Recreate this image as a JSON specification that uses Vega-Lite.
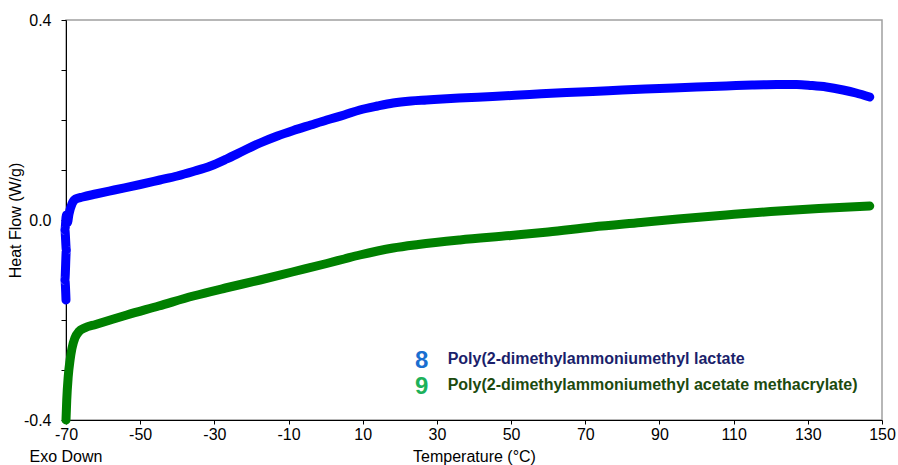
{
  "$schema": "https://vega.github.io/schema/vega-lite/v6.json",
  "width": 816,
  "height": 400,
  "autosize": {"type": "none"},
  "padding": {"left": 66, "top": 20, "right": 16, "bottom": 45},
  "background": "white",
  "config": {
    "font": "Liberation Sans",
    "view": {"stroke": "#a0a0a0", "strokeWidth": 1.5},
    "axis": {"grid": false, "domainColor": "#000000", "tickColor": "#000000", "labelColor": "#000000", "titleColor": "#000000", "labelFontSize": 16, "titleFontSize": 16, "titleFontWeight": "normal", "domainWidth": 1, "tickWidth": 1}
  },
  "datasets": {
    "curves": [
      {"i": 1, "series": "8", "T": -70.0, "v": -0.160},
      {"i": 2, "series": "8", "T": -70.3, "v": -0.120},
      {"i": 3, "series": "8", "T": -69.9, "v": -0.060},
      {"i": 4, "series": "8", "T": -70.3, "v": -0.020},
      {"i": 5, "series": "8", "T": -69.9, "v": 0.010},
      {"i": 6, "series": "8", "T": -69.6, "v": -0.005},
      {"i": 7, "series": "8", "T": -69.2, "v": 0.012},
      {"i": 8, "series": "8", "T": -68.4, "v": 0.032},
      {"i": 9, "series": "8", "T": -67.4, "v": 0.042},
      {"i": 10, "series": "8", "T": -65.5, "v": 0.046},
      {"i": 11, "series": "8", "T": -62.0, "v": 0.052},
      {"i": 12, "series": "8", "T": -57.0, "v": 0.060},
      {"i": 13, "series": "8", "T": -50.0, "v": 0.071},
      {"i": 14, "series": "8", "T": -44.7, "v": 0.080},
      {"i": 15, "series": "8", "T": -40.0, "v": 0.088},
      {"i": 16, "series": "8", "T": -35.7, "v": 0.097},
      {"i": 17, "series": "8", "T": -31.0, "v": 0.108},
      {"i": 18, "series": "8", "T": -26.7, "v": 0.122},
      {"i": 19, "series": "8", "T": -22.0, "v": 0.139},
      {"i": 20, "series": "8", "T": -17.7, "v": 0.154},
      {"i": 21, "series": "8", "T": -13.0, "v": 0.168},
      {"i": 22, "series": "8", "T": -8.7, "v": 0.179},
      {"i": 23, "series": "8", "T": -4.0, "v": 0.190},
      {"i": 24, "series": "8", "T": 0.3, "v": 0.200},
      {"i": 25, "series": "8", "T": 5.0, "v": 0.210},
      {"i": 26, "series": "8", "T": 9.2, "v": 0.220},
      {"i": 27, "series": "8", "T": 14.0, "v": 0.228},
      {"i": 28, "series": "8", "T": 18.2, "v": 0.234},
      {"i": 29, "series": "8", "T": 23.0, "v": 0.238},
      {"i": 30, "series": "8", "T": 27.2, "v": 0.240},
      {"i": 31, "series": "8", "T": 36.0, "v": 0.244},
      {"i": 32, "series": "8", "T": 45.0, "v": 0.247},
      {"i": 33, "series": "8", "T": 55.0, "v": 0.251},
      {"i": 34, "series": "8", "T": 65.0, "v": 0.255},
      {"i": 35, "series": "8", "T": 72.0, "v": 0.257},
      {"i": 36, "series": "8", "T": 80.0, "v": 0.260},
      {"i": 37, "series": "8", "T": 90.0, "v": 0.263},
      {"i": 38, "series": "8", "T": 100.0, "v": 0.266},
      {"i": 39, "series": "8", "T": 108.0, "v": 0.268},
      {"i": 40, "series": "8", "T": 115.0, "v": 0.270},
      {"i": 41, "series": "8", "T": 121.6, "v": 0.271},
      {"i": 42, "series": "8", "T": 127.0, "v": 0.271},
      {"i": 43, "series": "8", "T": 131.0, "v": 0.269},
      {"i": 44, "series": "8", "T": 135.0, "v": 0.266},
      {"i": 45, "series": "8", "T": 139.5, "v": 0.260},
      {"i": 46, "series": "8", "T": 143.0, "v": 0.254},
      {"i": 47, "series": "8", "T": 146.7, "v": 0.246},
      {"i": 1, "series": "9", "T": -70.0, "v": -0.400},
      {"i": 2, "series": "9", "T": -69.8, "v": -0.360},
      {"i": 3, "series": "9", "T": -69.4, "v": -0.313},
      {"i": 4, "series": "9", "T": -68.9, "v": -0.280},
      {"i": 5, "series": "9", "T": -68.4, "v": -0.257},
      {"i": 6, "series": "9", "T": -67.6, "v": -0.236},
      {"i": 7, "series": "9", "T": -66.5, "v": -0.223},
      {"i": 8, "series": "9", "T": -65.0, "v": -0.216},
      {"i": 9, "series": "9", "T": -62.0, "v": -0.209},
      {"i": 10, "series": "9", "T": -57.2, "v": -0.198},
      {"i": 11, "series": "9", "T": -53.6, "v": -0.190},
      {"i": 12, "series": "9", "T": -45.0, "v": -0.172},
      {"i": 13, "series": "9", "T": -35.7, "v": -0.152},
      {"i": 14, "series": "9", "T": -27.0, "v": -0.136},
      {"i": 15, "series": "9", "T": -17.7, "v": -0.120},
      {"i": 16, "series": "9", "T": -9.0, "v": -0.104},
      {"i": 17, "series": "9", "T": 0.3, "v": -0.087},
      {"i": 18, "series": "9", "T": 5.0, "v": -0.078},
      {"i": 19, "series": "9", "T": 9.2, "v": -0.070},
      {"i": 20, "series": "9", "T": 14.0, "v": -0.062},
      {"i": 21, "series": "9", "T": 18.2, "v": -0.056},
      {"i": 22, "series": "9", "T": 25.0, "v": -0.049},
      {"i": 23, "series": "9", "T": 36.2, "v": -0.040},
      {"i": 24, "series": "9", "T": 50.0, "v": -0.031},
      {"i": 25, "series": "9", "T": 60.0, "v": -0.024},
      {"i": 26, "series": "9", "T": 72.0, "v": -0.014},
      {"i": 27, "series": "9", "T": 85.0, "v": -0.005},
      {"i": 28, "series": "9", "T": 95.0, "v": 0.002},
      {"i": 29, "series": "9", "T": 108.0, "v": 0.010},
      {"i": 30, "series": "9", "T": 120.0, "v": 0.017},
      {"i": 31, "series": "9", "T": 133.0, "v": 0.023},
      {"i": 32, "series": "9", "T": 146.7, "v": 0.028}
    ],
    "notes": [
      {"kind": "num", "series": "8", "text": "8", "T": 25.9, "v": -0.281},
      {"kind": "num", "series": "9", "text": "9", "T": 25.9, "v": -0.334},
      {"kind": "name", "series": "8", "text": "Poly(2-dimethylammoniumethyl lactate", "T": 32.9, "v": -0.277},
      {"kind": "name", "series": "9", "text": "Poly(2-dimethylammoniumethyl acetate methacrylate)", "T": 32.9, "v": -0.329},
      {"kind": "caption", "series": "", "text": "Exo Down", "T": -70, "v": -0.474}
    ]
  },
  "resolve": {"scale": {"color": "independent"}},
  "layer": [
    {
      "data": {"name": "curves"},
      "mark": {"type": "line", "strokeWidth": 9, "strokeCap": "round", "strokeJoin": "round", "interpolate": "monotone"},
      "encoding": {
        "x": {
          "field": "T", "type": "quantitative",
          "scale": {"domain": [-70, 150], "nice": false, "zero": false},
          "axis": {
            "title": "Temperature (°C)",
            "values": [-70, -60, -50, -40, -30, -20, -10, 0, 10, 20, 30, 40, 50, 60, 70, 80, 90, 100, 110, 120, 130, 140, 150],
            "labelExpr": "abs(datum.value % 20) == 10 ? '' + datum.value : ''",
            "tickSize": 4, "labelPadding": 2, "titlePadding": 6, "labelFlush": false, "labelOverlap": false
          }
        },
        "y": {
          "field": "v", "type": "quantitative",
          "scale": {"domain": [-0.4, 0.4], "nice": false, "zero": false},
          "axis": {
            "title": "Heat Flow (W/g)",
            "values": [-0.4, -0.35, -0.3, -0.25, -0.2, -0.15, -0.1, -0.05, 0, 0.05, 0.1, 0.15, 0.2, 0.25, 0.3, 0.35, 0.4],
            "labelExpr": "datum.value == 0.4 ? '0.4' : datum.value == 0 ? '0.0' : datum.value == -0.4 ? '-0.4' : ''",
            "tickSize": 5, "labelPadding": 10, "titlePadding": 0, "labelFlush": false, "labelOverlap": false
          }
        },
        "color": {"field": "series", "type": "nominal", "scale": {"domain": ["8", "9"], "range": ["#0000ff", "#008000"]}, "legend": null},
        "order": {"field": "i", "type": "quantitative"}
      }
    },
    {
      "data": {"name": "notes"},
      "transform": [{"filter": "datum.kind == 'num'"}],
      "mark": {"type": "text", "fontSize": 24, "fontWeight": "bold", "align": "center", "baseline": "middle"},
      "encoding": {
        "x": {"field": "T", "type": "quantitative"},
        "y": {"field": "v", "type": "quantitative"},
        "text": {"field": "text"},
        "color": {"field": "series", "type": "nominal", "scale": {"domain": ["8", "9"], "range": ["#1a6fd0", "#1db15a"]}, "legend": null}
      }
    },
    {
      "data": {"name": "notes"},
      "transform": [{"filter": "datum.kind == 'name'"}],
      "mark": {"type": "text", "fontSize": 16, "fontWeight": "bold", "align": "left", "baseline": "middle"},
      "encoding": {
        "x": {"field": "T", "type": "quantitative"},
        "y": {"field": "v", "type": "quantitative"},
        "text": {"field": "text"},
        "color": {"field": "series", "type": "nominal", "scale": {"domain": ["8", "9"], "range": ["#1b1f6b", "#1c4a0e"]}, "legend": null}
      }
    },
    {
      "data": {"name": "notes"},
      "transform": [{"filter": "datum.kind == 'caption'"}],
      "mark": {"type": "text", "fontSize": 16, "align": "center", "baseline": "middle", "color": "#000000"},
      "encoding": {
        "x": {"field": "T", "type": "quantitative"},
        "y": {"field": "v", "type": "quantitative"},
        "text": {"field": "text"}
      }
    }
  ]
}
